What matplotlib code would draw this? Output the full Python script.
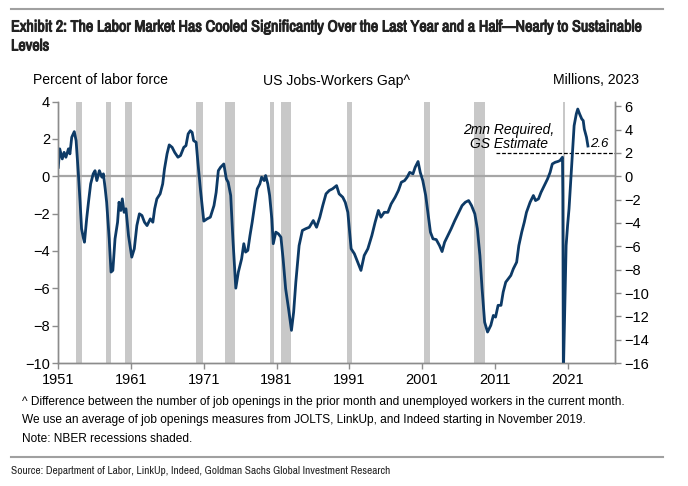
import matplotlib.pyplot as plt
import matplotlib.patheffects as pe
from matplotlib.lines import Line2D

# US jobs-workers gap, percent of labor force
years = [
    1951.0, 1951.2, 1951.55, 1951.8, 1952.05, 1952.4, 1952.6, 1952.85, 1953.2, 1953.45,
    1953.75, 1954.0, 1954.2, 1954.45, 1954.6, 1954.9, 1955.15, 1955.45, 1955.8, 1956.05,
    1956.3, 1956.65, 1957.0, 1957.2, 1957.45, 1957.65, 1958.0, 1958.25, 1958.5, 1958.8,
    1959.15, 1959.35, 1959.6, 1959.8, 1960.05, 1960.3, 1960.65, 1961.1, 1961.45, 1961.8,
    1962.15, 1962.5, 1962.85, 1963.2, 1963.65, 1964.0, 1964.25, 1964.55, 1965.0, 1965.35,
    1965.6, 1965.95, 1966.25, 1966.65, 1967.0, 1967.45, 1967.8, 1968.25, 1968.55, 1968.85,
    1969.15, 1969.4, 1969.6, 1969.95, 1970.2, 1970.55, 1971.0, 1971.45, 1971.9, 1972.4,
    1972.7, 1973.0, 1973.3, 1973.75, 1974.1, 1974.35, 1974.7, 1975.0, 1975.4, 1975.75,
    1976.2, 1976.5, 1976.75, 1977.05, 1977.35, 1977.65, 1978.05, 1978.35, 1978.7, 1978.95,
    1979.3, 1979.5, 1979.8, 1980.05, 1980.35, 1980.55, 1980.9, 1981.25, 1981.6, 1981.9,
    1982.25, 1982.65, 1983.05, 1983.35, 1983.65, 1984.1, 1984.55, 1985.0, 1985.5, 1986.05,
    1986.5, 1986.95, 1987.35, 1987.8, 1988.25, 1988.7, 1989.25, 1989.6, 1990.1, 1990.45,
    1990.8, 1991.25, 1991.7, 1992.15, 1992.6, 1993.05, 1993.55, 1994.1, 1994.55, 1995.0,
    1995.35, 1995.8, 1996.3, 1996.75, 1997.3, 1997.75, 1998.15, 1998.6, 1998.95, 1999.3,
    1999.75, 2000.05, 2000.45, 2000.75, 2001.1, 2001.5, 2001.8, 2002.15, 2002.5, 2002.95,
    2003.4, 2003.75, 2004.1, 2004.55, 2005.0, 2005.5, 2005.95, 2006.5, 2006.95, 2007.4,
    2007.8, 2008.25, 2008.6, 2008.95, 2009.25, 2009.6, 2010.0, 2010.45, 2010.8, 2011.1,
    2011.45, 2011.85, 2012.15, 2012.5, 2012.85, 2013.2, 2013.55, 2014.0, 2014.3, 2014.7,
    2015.05, 2015.35, 2015.85, 2016.3, 2016.6, 2017.0, 2017.35, 2017.8, 2018.25, 2018.6,
    2018.9, 2019.3, 2019.65, 2019.95, 2020.3, 2020.35, 2020.42, 2020.6, 2020.8, 2021.0,
    2021.2, 2021.45, 2021.7, 2021.9, 2022.2, 2022.4, 2022.65, 2022.95, 2023.15, 2023.3,
    2023.6, 2023.8,
]
gap_pct = [
    0.48, 1.47, 0.93, 1.28, 1.02, 1.47, 1.2, 2.09, 2.39, 1.91,
    0.21, -1.39, -2.81, -3.3, -3.53, -2.28, -1.39, -0.41, 0.13, 0.3,
    -0.23, 0.3, -0.05, 0.13, -0.67, -1.39, -3.35, -5.13, -5.04, -3.35,
    -2.46, -1.39, -1.83, -1.21, -1.93, -1.74, -3.17, -4.33, -3.88, -2.64,
    -2.01, -2.1, -2.46, -2.64, -2.28, -2.46, -1.74, -1.21, -0.94, -0.41,
    0.4, 1.2, 1.68, 1.55, 1.28, 1.02, 1.11, 1.55, 1.64, 2.27,
    2.44, 2.35, 1.91, 1.82, 0.7, -0.75, -2.4, -2.28, -2.19, -1.57,
    -0.86, 0.3, 0.48, 0.66, -0.14, -0.32, -1.03, -3.35, -5.99, -5.13,
    -4.42, -3.61, -4.06, -3.97, -3.17, -2.46, -1.39, -0.67, -0.41, -0.05,
    -0.23, 0.04, -0.41, -1.03, -2.28, -3.61, -2.99, -3.08, -3.26, -4.42,
    -6.02, -7.09, -8.25, -7.27, -5.67, -3.71, -2.9, -2.81, -2.73, -2.37,
    -2.73, -2.19, -1.57, -0.94, -0.76, -0.67, -0.5, -0.94, -1.12, -1.4,
    -1.93, -3.88, -4.15, -4.6, -5.04, -4.24, -3.88, -3.17, -2.46, -1.83,
    -2.19, -1.93, -1.93, -1.48, -1.12, -0.76, -0.32, -0.23, -0.05, 0.21,
    0.13, 0.48, 0.79, 0.21, -0.23, -1.03, -1.93, -2.99, -3.35, -3.39,
    -3.71, -4.03, -3.53, -3.17, -2.81, -2.37, -2.01, -1.57, -1.39, -1.3,
    -1.57, -2.01, -2.81, -4.24, -6.02, -7.81, -8.34, -7.98, -7.45, -7.54,
    -6.91, -6.91, -6.2, -5.67, -5.49, -5.31, -4.95, -4.6, -3.71, -2.99,
    -2.46, -1.93, -1.39, -1.03, -1.3, -1.21, -0.86, -0.5, -0.14, 0.21,
    0.66, 0.75, 0.79, 0.84, 1.02, -1.03, -10.6, -7.27, -3.71, -2.64,
    -1.74, -0.14, 1.47, 2.71, 3.34, 3.6, 3.34, 3.07, 2.98, 2.53,
    2.09, 1.62,
]

# NBER recessions (start, end)
recessions = [
    (1953.4, 1954.3), (1957.55, 1958.3), (1960.2, 1961.1), (1969.95, 1970.9),
    (1973.85, 1975.3), (1980.05, 1980.65), (1981.6, 1983.05), (1990.65, 1991.4),
    (2001.3, 2002.1), (2008.15, 2009.7), (2020.35, 2020.65),
]

x_ticks = [1951, 1961, 1971, 1981, 1991, 2001, 2011, 2021]
left_ticks = [-10, -8, -6, -4, -2, 0, 2, 4]
right_ticks = [-16, -14, -12, -10, -8, -6, -4, -2, 0, 2, 4, 6]
mn_per_pct = 1.6          # millions of workers per percent of labor force
required_mn = 2.0
required_start = 2011.1
latest_mn = 2.6

navy = '#0d3a66'
spine_gray = '#8c8c8c'
rule_gray = '#a0a0a0'

plt.rcParams['font.family'] = ['Liberation Sans', 'DejaVu Sans']
narrow = ['Archivo Narrow', 'Liberation Sans', 'DejaVu Sans']
fake_bold = [pe.withStroke(linewidth=0.7, foreground='#222222')]

fig = plt.figure(figsize=(6.88, 4.86), dpi=100)
ax = fig.add_axes([0.0847, 0.253, 0.809, 0.538])

for start, end in recessions:
    ax.axvspan(start, end, color='#c8c8c8', lw=0, zorder=1)

ax.axhline(0, color='#a6a6a6', lw=1.6, zorder=2)
ax.plot(years, gap_pct, color=navy, lw=2, zorder=4)

# 2mn required line, expressed in percent of labor force
ax.plot([required_start, 2027.5], [required_mn / mn_per_pct] * 2,
        color='black', lw=0.9, ls=(0, (3, 1.5)), zorder=3)
ax.text(2012.9, 2.1, '2mn Required,\nGS Estimate', ha='center', va='center',
        fontsize=10, style='italic', linespacing=1.0, zorder=5)
ax.text(2024.15, latest_mn / mn_per_pct + 0.08, f'{latest_mn}', ha='left', va='center',
        fontsize=9.5, style='italic', zorder=5)

ax.set_xlim(1951, 2027.5)
ax.set_ylim(-10, 4)
ax.set_xticks(x_ticks)
ax.set_yticks(left_ticks)

ax2 = ax.twinx()
ax2.set_ylim(-10 * mn_per_pct, 4 * mn_per_pct)
ax2.set_yticks(right_ticks)

for a in (ax, ax2):
    a.spines['top'].set_visible(False)
    for s in ('left', 'right', 'bottom'):
        a.spines[s].set_color(spine_gray)
        a.spines[s].set_linewidth(1.0)
    a.tick_params(colors=spine_gray, labelcolor='black', labelsize=10.5, length=4, width=1)
ax.tick_params(axis='x', pad=3)
ax.tick_params(axis='y', pad=2)
ax2.tick_params(axis='y', pad=3)

# header and footer
fig.add_artist(Line2D([11 / 688, 663 / 688], [1 - 9 / 486] * 2, color=rule_gray, lw=1.5))
fig.text(11 / 688, 1 - 27 / 486, 'Exhibit 2: The Labor Market Has Cooled Significantly Over the Last Year and a Half\u2014Nearly to Sustainable',
         family=narrow, fontsize=11.6, color='#222222', va='center', path_effects=fake_bold)
fig.text(11 / 688, 1 - 46 / 486, 'Levels', family=narrow, fontsize=11.6,
         color='#222222', va='center', path_effects=fake_bold)

fig.text(33 / 688, 1 - 80 / 486, 'Percent of labor force', fontsize=10.1, va='center')
fig.text(337 / 688, 1 - 81 / 486, 'US Jobs-Workers Gap^', fontsize=10.1, va='center', ha='center')
fig.text(639 / 688, 1 - 80 / 486, 'Millions, 2023', fontsize=10.1, va='center', ha='right')

fig.text(22 / 688, 1 - 402 / 486,
         '^ Difference between the number of job openings in the prior month and unemployed workers in the current month.',
         fontsize=8.55, va='center')
fig.text(22 / 688, 1 - 420 / 486,
         'We use an average of job openings measures from JOLTS, LinkUp, and Indeed starting in November 2019.',
         fontsize=8.55, va='center')
fig.text(22 / 688, 1 - 439 / 486, 'Note: NBER recessions shaded.', fontsize=8.55, va='center')

fig.add_artist(Line2D([11 / 688, 663 / 688], [1 - 457 / 486] * 2, color=rule_gray, lw=1.5))
fig.text(11 / 688, 1 - 471 / 486,
         'Source: Department of Labor, LinkUp, Indeed, Goldman Sachs Global Investment Research',
         family=narrow, fontsize=8.15, color='#222222', va='center')

fig.savefig('out.png', dpi=100)
